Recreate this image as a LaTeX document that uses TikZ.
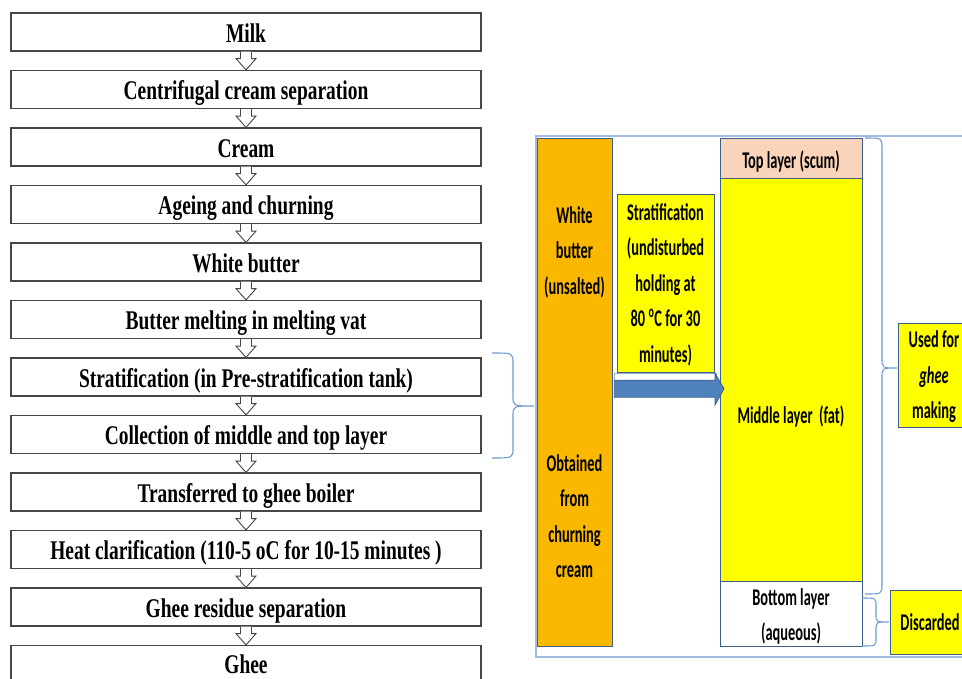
\documentclass[tikz,border=0pt]{standalone}
\usepackage{fontspec}
\usetikzlibrary{calc}
\newfontfamily\lfont[FakeStretch=0.72]{Liberation Serif}
\newfontfamily\rfont[FakeStretch=0.6]{Carlito}
\definecolor{flowline}{RGB}{70,70,70}
\definecolor{orng}{RGB}{250,184,0}
\definecolor{ylw}{RGB}{255,255,0}
\definecolor{peach}{RGB}{250,212,186}
\definecolor{dblue}{RGB}{60,95,140}
\definecolor{ablue}{RGB}{79,129,189}
\definecolor{lblue}{RGB}{160,188,225}
\definecolor{bblue}{RGB}{115,155,210}
\newcommand\flowarrow[2]{%
  \draw[harrow] ($(#1.south)+(-5.5,0)$) -- ($(#1.south)+(-5.5,7)$) -- ($(#1.south)+(-10,7)$)
    -- (#2.north) -- ($(#1.south)+(10,7)$) -- ($(#1.south)+(5.5,7)$) -- ($(#1.south)+(5.5,0)$);}
\newcommand\sidebrace[7]{%
  \draw[bracestyle] (#1,#4) .. controls (#2,#4) .. (#2,#4+#7) -- (#2,#5-#7)
    .. controls (#2,#5) .. (#3,#5) .. controls (#2,#5) .. (#2,#5+#7) -- (#2,#6-#7)
    .. controls (#2,#6) .. (#1,#6);}
\begin{document}
\begin{tikzpicture}[x=1pt,y=-1pt,
  flowbox/.style={draw=flowline, line width=1.1pt, fill=white, minimum width=470pt,
    minimum height=38pt, inner sep=0pt, text height=20pt, text depth=0pt,
    font=\lfont\bfseries\fontsize{27}{30}\selectfont},
  harrow/.style={draw=flowline, line width=0.9pt, fill=white, line join=miter},
  rtext/.style={font=\rfont\bfseries\fontsize{24}{35.5}\selectfont, align=center, inner sep=0pt},
  layer/.style={draw=dblue, line width=1.3pt, inner sep=0pt, anchor=north west},
  bracestyle/.style={draw=bblue, line width=1.1pt}
]
\clip (0,0) rectangle (962,678);
\fill[white] (0,0) rectangle (962,678);

% ---------- left flow chart ----------
\node[flowbox] (n1) at (246,32) {Milk};
\node[flowbox] (n2) at (246,89.5) {Centrifugal cream separation};
\node[flowbox] (n3) at (246,147) {Cream};
\node[flowbox] (n4) at (246,204.5) {Ageing and churning};
\node[flowbox] (n5) at (246,262) {White butter};
\node[flowbox] (n6) at (246,319.5) {Butter melting in melting vat};
\node[flowbox] (n7) at (246,377) {Stratification (in Pre-stratification tank)};
\node[flowbox] (n8) at (246,434.5) {Collection of middle and top layer};
\node[flowbox] (n9) at (246,492) {Transferred to ghee boiler};
\node[flowbox] (n10) at (246,549.5) {Heat clarification (110-5 oC for 10-15 minutes )};
\node[flowbox] (n11) at (246,607) {Ghee residue separation};
\node[flowbox, text height=17pt] (n12) at (246,664.5) {Ghee};
\flowarrow{n1}{n2}
\flowarrow{n2}{n3}
\flowarrow{n3}{n4}
\flowarrow{n4}{n5}
\flowarrow{n5}{n6}
\flowarrow{n6}{n7}
\flowarrow{n7}{n8}
\flowarrow{n8}{n9}
\flowarrow{n9}{n10}
\flowarrow{n10}{n11}
\flowarrow{n11}{n12}

% ---------- right panel ----------
\node[draw=lblue, line width=1.5pt, inner sep=0pt, minimum width=450pt, minimum height=521pt,
  anchor=north west] (panel) at (535,135) {};

\node[layer, fill=orng, minimum width=75pt, minimum height=508pt] (wb) at (537,138) {};
\node[rtext] (wbt1) at (574.5,252) {White\\butter\\(unsalted)};
\node[rtext] (wbt2) at (574.5,516) {Obtained\\from\\churning\\cream};

\node[layer, fill=ylw, minimum width=97pt, minimum height=178pt] (strat) at (617,194) {};
\node[rtext] (stratt) at (665.5,284.5) {Stratification\\(undisturbed\\holding at\\80 \textsuperscript{o}C for 30\\minutes)};

\node[layer, fill=peach, minimum width=142pt, minimum height=40pt] (toplay) at (720,138) {};
\node[layer, fill=ylw, minimum width=142pt, minimum height=403pt] (midlay) at (720,178) {};
\node[layer, fill=white, minimum width=142pt, minimum height=65pt] (botlay) at (720,581) {};
\node[rtext, anchor=base] (topt) at (791,168) {Top layer (scum)};
\node[rtext, anchor=base] (midt) at (791,423) {Middle layer~ (fat)};
\node[rtext] (bott) at (791,616.5) {Bottom layer\\(aqueous)};

% 3D block arrow from white butter to the layers
\coordinate (aS) at ($(wb.east)+(1,-4)$);
\coordinate (aT) at ($(midlay.west |- aS)+(4,0)$);
\draw[draw=lblue!80!gray, line width=0.6pt, fill=white] ($(aS)+(0,-15)$) rectangle ($(aT)+(-8,-8.5)$);
\draw[fill=ablue, draw=dblue, line width=0.8pt, line join=miter]
  ($(aS)+(0,-8.5)$) -- ($(aT)+(-9,-8.5)$) -- ($(aT)+(-9,-15.5)$) -- (aT)
  -- ($(aT)+(-9,16.5)$) -- ($(aT)+(-9,8.5)$) -- ($(aS)+(0,8.5)$) -- cycle;

\node[layer, fill=ylw, minimum width=75pt, minimum height=104pt] (used) at (898,323) {};
\node[rtext] (usedt) at (934,377) {Used for\\\textit{ghee}\\making};
\node[layer, fill=ylw, minimum width=80pt, minimum height=64pt] (disc) at (890,590) {};
\node[rtext, anchor=base] (disct) at (930,630) {Discarded};

% braces
\sidebrace{492}{513}{534}{353}{406}{458}{10}
\sidebrace{865}{882}{897}{138}{368}{594}{10}
\sidebrace{862}{876}{889}{598}{622}{646}{8}
\end{tikzpicture}
\end{document}
